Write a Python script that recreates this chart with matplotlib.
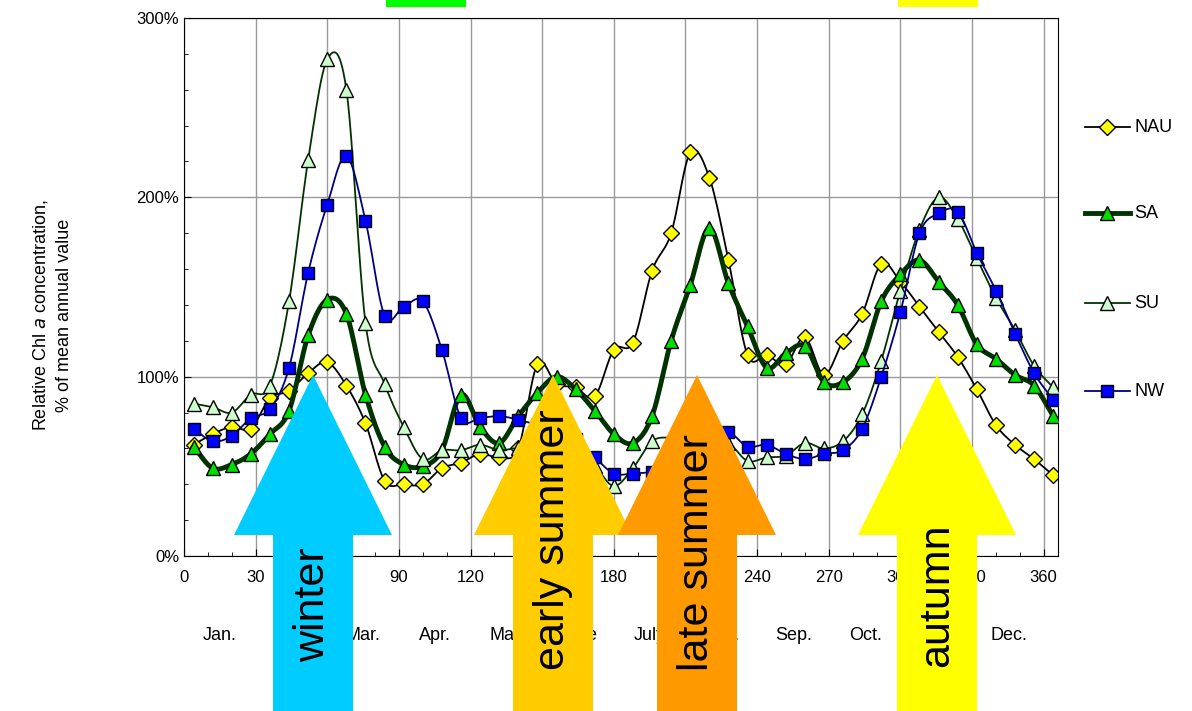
import numpy as np
import matplotlib
matplotlib.use('Agg')
import matplotlib.pyplot as plt
from matplotlib.patches import Polygon, Rectangle
from matplotlib.lines import Line2D

plt.rcParams['font.family'] = ['Liberation Sans', 'DejaVu Sans']

# 8-day composites
days = list(range(4, 368, 8))
nau = [62, 68, 72, 71, 88, 92, 102, 108, 95, 74, 42, 40, 40, 49, 52, 57, 55, 60, 107, 96,
       94, 89, 115, 119, 159, 180, 225, 211, 165, 112, 112, 107, 122, 101, 120, 135, 163, 153,
       139, 125, 111, 93, 73, 62, 54, 45]
sa = [61, 49, 51, 57, 68, 81, 123, 143, 135, 90, 61, 51, 50, 59, 90, 72, 63, 78, 91, 100,
      93, 81, 68, 63, 78, 120, 151, 183, 152, 128, 105, 113, 117, 97, 97, 110, 142, 157,
      165, 153, 140, 118, 110, 101, 95, 78]
su = [85, 83, 80, 90, 95, 142, 221, 277, 260, 130, 96, 72, 54, 59, 59, 62, 59, 60, 57, 55,
      55, 50, 39, 49, 64, 66, 65, 64, 63, 53, 55, 56, 63, 60, 64, 79, 109, 148, 182, 200,
      188, 166, 144, 126, 106, 94]
nw = [71, 64, 67, 77, 82, 105, 158, 196, 223, 187, 134, 139, 142, 115, 77, 77, 78, 76, 73, 70,
      65, 55, 46, 46, 47, 50, 58, 65, 69, 61, 62, 57, 54, 57, 59, 71, 100, 136, 180, 191,
      192, 169, 148, 124, 102, 87]
months = ['Jan.', 'Feb.', 'Mar.', 'Apr.', 'May', 'June', 'July', 'Aug.', 'Sep.', 'Oct.', 'Nov.', 'Dec.']


def smooth(x, y, n=12):
    # Catmull-Rom curve through the points (like Excel's smoothed line)
    x = np.asarray(x, float); y = np.asarray(y, float)
    px = np.r_[2 * x[0] - x[1], x, 2 * x[-1] - x[-2]]
    py = np.r_[2 * y[0] - y[1], y, 2 * y[-1] - y[-2]]
    xs, ys = [], []
    t = np.linspace(0, 1, n, endpoint=False)
    for i in range(1, len(px) - 2):
        for arr, out in ((px, xs), (py, ys)):
            p0, p1, p2, p3 = arr[i - 1:i + 3]
            out.extend(0.5 * (2 * p1 + (-p0 + p2) * t + (2 * p0 - 5 * p1 + 4 * p2 - p3) * t ** 2
                              + (-p0 + 3 * p1 - 3 * p2 + p3) * t ** 3))
    xs.append(x[-1]); ys.append(y[-1])
    return xs, ys


W, H = 1192, 711
fig = plt.figure(figsize=(11.92, 7.11), dpi=100)
ax = fig.add_axes([184 / W, (H - 556) / H, 874 / W, 538 / H])

series = [
    ('NAU', nau, 'black', 1.3, 'D', '#FFFF00', 8),
    ('SA', sa, '#003300', 3.5, '^', '#00DD00', 10),
    ('SU', su, '#003300', 1.3, '^', '#CCFFCC', 10),
    ('NW', nw, '#000080', 1.3, 's', '#0000FF', 9),
]
order = [2, 3, 0, 1]
for k in order:
    name, vals, lc, lw, mk, mc, ms = series[k]
    xs, ys = smooth(days, vals)
    ax.plot(xs, ys, color=lc, lw=lw, zorder=2 + k)
    ax.plot(days, vals, ls='none', marker=mk, mfc=mc, mec='black', mew=1, ms=ms, zorder=2 + k)

ax.set_xlim(0, 366)
ax.set_ylim(0, 300)
ax.set_xticks(range(0, 361, 30))
ax.set_xticks(range(0, 366, 10), minor=True)
ax.set_yticks([0, 100, 200, 300])
ax.set_yticks(range(0, 301, 20), minor=True)
ax.set_yticklabels(['0%', '100%', '200%', '300%'])
ax.tick_params(labelsize=12, direction='in', length=5)
ax.tick_params(which='minor', direction='in', length=3)
ax.tick_params(axis='x', pad=10)
ax.grid(True, which='major', color='#999999', lw=1)
for s in ax.spines.values():
    s.set_color('black')
for i, m in enumerate(months):
    fig.text((184 + 2.39 * (15 + 30 * i)) / W, 1 - 635 / H, m, ha='center', va='center',
             fontsize=13)
fig.text(52 / W, 1 - 315 / H, 'Relative Chl $\\it{a}$ concentration,\n% of mean annual value',
         rotation=90, ha='center', va='center', fontsize=13, linespacing=1.4)

# legend on the right
for k, y in zip(range(4), [127, 213, 303, 391]):
    name, vals, lc, lw, mk, mc, ms = series[k]
    yf = 1 - y / H
    fig.add_artist(Line2D([1085 / W, 1130 / W], [yf, yf], color=lc, lw=lw))
    fig.add_artist(Line2D([1107 / W], [yf], marker=mk, mfc=mc, mec='black', mew=1, ms=ms))
    fig.text(1134 / W, yf, name, va='center', fontsize=13)


# season arrows
def arrow(cx, color, label, ty):
    head = [(cx - 79, 535), (cx + 79, 535), (cx, 375)]
    shaft = [(cx - 40, 535), (cx + 40, 535), (cx + 40, 711), (cx - 40, 711)]
    for pts in (head, shaft):
        fig.patches.append(Polygon([(x / W, 1 - y / H) for x, y in pts], closed=True,
                                   transform=fig.transFigure, fc=color, ec='none', zorder=10))
    fig.text(cx / W, 1 - ty / H, label, rotation=90, ha='center', va='center',
             fontsize=31, zorder=11)


arrow(313, '#00CCFF', 'winter', 605)
arrow(553, '#FFCC00', 'early summer', 540)
arrow(697, '#FF9900', 'late summer', 553)
arrow(937, '#FFFF00', 'autumn', 595)
fig.patches.append(Rectangle((386 / W, 1 - 7 / H), 80 / W, 7 / H, transform=fig.transFigure,
                             fc='#00FF00', ec='none', zorder=10))
fig.patches.append(Rectangle((898 / W, 1 - 7 / H), 80 / W, 7 / H, transform=fig.transFigure,
                             fc='#FFFF00', ec='none', zorder=10))

fig.savefig('out.png', dpi=100)
